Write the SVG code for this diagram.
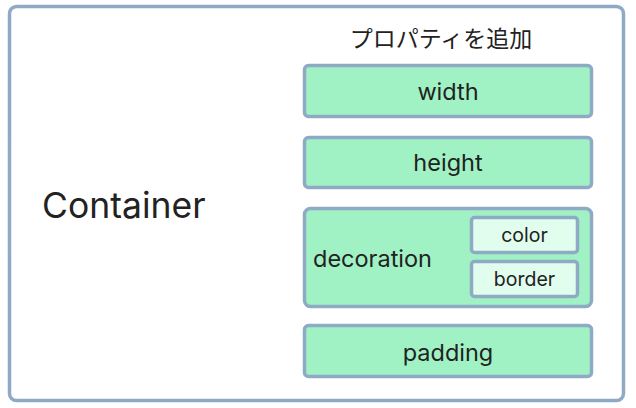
<svg xmlns="http://www.w3.org/2000/svg" width="636" height="408" viewBox="0 0 636 408">
<style>
.box{fill:#a0f2c4;stroke:#8eaac4;stroke-width:3.5}
.sub{fill:#e0fdee;stroke:#8eaac4;stroke-width:3.5}
text{font-family:Inter,"Noto Sans CJK JP",sans-serif;fill:#222}
.lbl{font-size:23.5px;text-anchor:middle;dominant-baseline:central}
.sm{font-size:19.5px;text-anchor:middle;dominant-baseline:central}
</style>
<g id="container">
<rect x="9.5" y="6.5" width="614" height="394" rx="7" fill="#fff" stroke="#8eaac4" stroke-width="3.5"/>
<text x="42" y="205" font-size="35.5" dominant-baseline="central">Container</text>
</g>
<text x="441" y="39" font-size="23" text-anchor="middle" dominant-baseline="central">プロパティを追加</text>
<g id="width"><rect class="box" x="304.5" y="65.5" width="287" height="51" rx="4"/><text class="lbl" x="448" y="91">width</text></g>
<g id="height"><rect class="box" x="304.5" y="137.5" width="287" height="50" rx="4"/><text class="lbl" x="448" y="162">height</text></g>
<g id="decoration"><rect class="box" x="304.5" y="208.5" width="287" height="98" rx="6"/><text x="313" y="258" font-size="23.5" dominant-baseline="central">decoration</text>
<g id="color"><rect class="sub" x="471.5" y="217.5" width="106" height="35" rx="3"/><text class="sm" x="524.5" y="235">color</text></g>
<g id="border"><rect class="sub" x="471.5" y="261.5" width="106" height="35" rx="3"/><text class="sm" x="524.5" y="279">border</text></g>
</g>
<g id="padding"><rect class="box" x="304.5" y="325.5" width="287" height="51" rx="4"/><text class="lbl" x="448" y="352">padding</text></g>
<g id="connectors"/>
</svg>
